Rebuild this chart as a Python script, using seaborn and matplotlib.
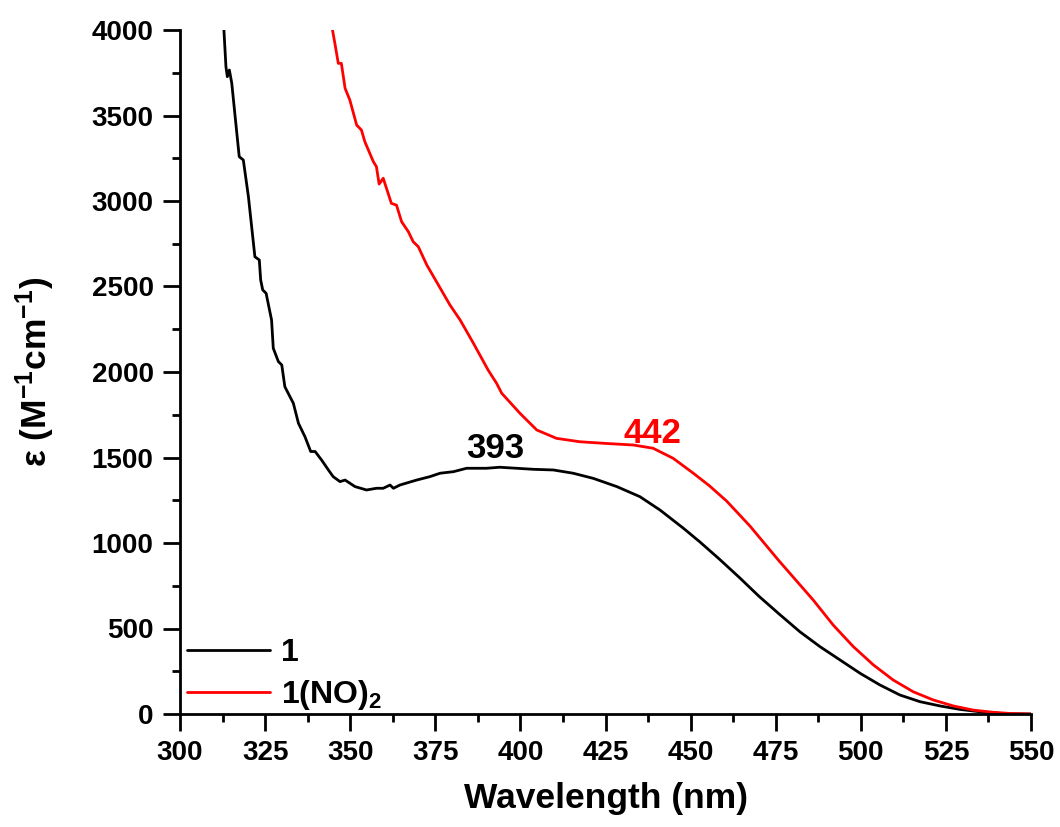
import numpy as np
import pandas as pd
import matplotlib
matplotlib.use("Agg")
import matplotlib.pyplot as plt
from matplotlib.ticker import AutoMinorLocator
import seaborn as sns

# ---- data ----
wl_1 = [312.9, 313.5, 313.9, 314.5, 315.2, 316.6, 317.4, 318.6, 320.1, 322.0, 323.3, 323.7,
        324.3, 325.3, 326.9, 327.4, 328.9, 329.9, 330.8, 333.3, 334.8, 336.7, 338.4, 339.7,
        341.6, 343.6, 345.0, 347.0, 348.5, 351.4, 354.8, 357.7, 359.7, 361.7, 362.7, 364.6,
        369.5, 373.4, 376.4, 380.3, 384.2, 390.0, 393.9, 398.9, 403.8, 409.7, 415.5, 421.4,
        428.3, 435.1, 441.0, 447.9, 452.8, 458.5, 464.5, 470.0, 476.0, 482.1, 488.0, 493.9,
        499.8, 505.6, 511.5, 517.4, 523.3, 529.1, 535.0, 540.9, 545.0, 550.0]
eps_1 = [4000, 3785, 3727, 3766, 3690, 3415, 3259, 3240, 3025, 2674, 2655, 2538,
         2480, 2460, 2304, 2139, 2061, 2041, 1914, 1817, 1700, 1622, 1535, 1535,
         1485, 1427, 1388, 1359, 1368, 1330, 1310, 1320, 1320, 1339, 1320, 1339,
         1368, 1388, 1408, 1417, 1437, 1437, 1443, 1437, 1431, 1427, 1408, 1378,
         1330, 1271, 1193, 1086, 1005, 905, 795, 690, 585, 481, 394, 316,
         238, 170, 111, 72, 47, 27, 13, 4, 1, 0]

wl_2 = [344.8, 345.5, 346.5, 347.4, 348.5, 349.9, 351.9, 353.3, 354.3, 356.8, 357.7, 358.5,
        359.7, 362.1, 363.6, 365.1, 367.1, 368.5, 370.0, 372.5, 375.9, 379.3, 382.3, 386.2,
        390.5, 393.0, 394.5, 399.9, 404.8, 410.6, 417.5, 425.3, 433.2, 439.0, 444.9, 450.8,
        455.5, 460.6, 467.4, 476.0, 486.0, 491.9, 497.8, 503.7, 509.5, 515.4, 521.3, 527.2,
        533.0, 538.9, 544.0, 550.0]
eps_2 = [4000, 3922, 3805, 3805, 3659, 3590, 3444, 3415, 3347, 3230, 3201, 3099,
         3133, 2986, 2976, 2879, 2820, 2762, 2733, 2626, 2509, 2392, 2304, 2168,
         2012, 1934, 1876, 1758, 1661, 1612, 1592, 1582, 1573, 1554, 1495, 1408,
         1335, 1245, 1100, 895, 667, 520, 394, 287, 199, 130, 82, 47,
         23, 10, 3, 0]

series_names = ["1", "1(NO)$_2$"]
series_colors = ["#000000", "#ff0000"]
peak_labels = ["393", "442"]
peak_pos = [(392.5, 1497), (438.8, 1585)]

x_ticks = [300, 325, 350, 375, 400, 425, 450, 475, 500, 525, 550]
y_ticks = [0, 500, 1000, 1500, 2000, 2500, 3000, 3500, 4000]

df = pd.concat([
    pd.DataFrame({"wl": wl_1, "eps": eps_1, "sample": series_names[0]}),
    pd.DataFrame({"wl": wl_2, "eps": eps_2, "sample": series_names[1]}),
], ignore_index=True)

sns.set_style("ticks")
plt.rcParams["font.family"] = ["Liberation Sans", "DejaVu Sans"]
plt.rcParams["font.weight"] = "bold"
plt.rcParams["axes.labelweight"] = "bold"
plt.rcParams["text.color"] = "black"
plt.rcParams["axes.labelcolor"] = "black"
plt.rcParams["axes.edgecolor"] = "black"
plt.rcParams["xtick.color"] = "black"
plt.rcParams["ytick.color"] = "black"
plt.rcParams["mathtext.fontset"] = "custom"
plt.rcParams["mathtext.rm"] = "Liberation Sans:bold"
plt.rcParams["mathtext.it"] = "Liberation Sans:bold"
plt.rcParams["mathtext.bf"] = "Liberation Sans:bold"
plt.rcParams["mathtext.default"] = "rm"

fig = plt.figure(figsize=(10.6, 8.27), dpi=100)
ax = fig.add_axes([180 / 1060, 1 - 714 / 827, 851 / 1060, 684 / 827])

sns.lineplot(data=df, x="wl", y="eps", hue="sample", palette=series_colors,
             estimator=None, sort=False, linewidth=2, ax=ax)

ax.set_xlim(300, 550)
ax.set_ylim(0, 4000)
ax.set_xticks(x_ticks)
ax.set_yticks(y_ticks)
ax.xaxis.set_minor_locator(AutoMinorLocator(2))
ax.yaxis.set_minor_locator(AutoMinorLocator(2))
ax.tick_params(which="major", direction="out", length=12, width=2, labelsize=20, pad=7,
               colors="black")
ax.tick_params(which="minor", direction="out", length=6, width=2, colors="black")
for lab in ax.get_xticklabels() + ax.get_yticklabels():
    lab.set_fontweight("bold")

sns.despine(ax=ax)
for s in ["left", "bottom"]:
    ax.spines[s].set_linewidth(2)
    ax.spines[s].set_color("black")

ax.set_xlabel("Wavelength (nm)", fontsize=25.5, fontweight="bold", color="black")
ax.set_ylabel("ε (M$^{-1}$cm$^{-1}$)", fontsize=25.5, fontweight="bold", color="black")
ax.xaxis.set_label_coords(0.5, -0.1)
ax.yaxis.set_label_coords(-0.144, 0.5)

for lab, (px, py), c in zip(peak_labels, peak_pos, series_colors):
    ax.text(px, py, lab, color=c, fontsize=25, fontweight="bold",
            ha="center", va="baseline")

leg = ax.legend(loc="lower left", bbox_to_anchor=(0.008, 0.003), frameon=False,
                fontsize=23, handlelength=2.6, handletextpad=0.35,
                labelspacing=0.3, borderpad=0, borderaxespad=0)
for t in leg.get_texts():
    t.set_fontweight("bold")
    t.set_color("black")
for h in leg.get_lines():
    h.set_linewidth(2)

fig.savefig("out.png", dpi=100)
